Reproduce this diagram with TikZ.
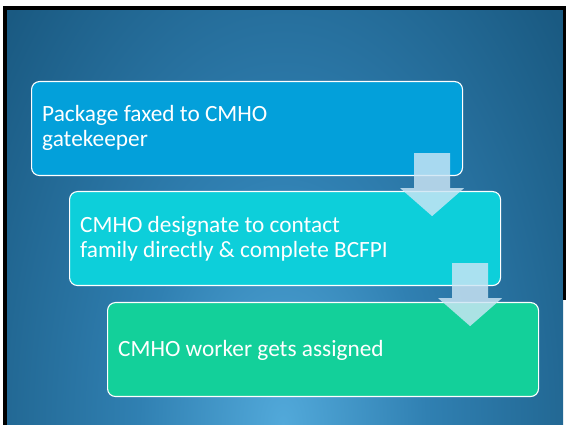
\documentclass[tikz,border=0pt]{standalone}
\usepackage{fontspec}
\setmainfont{Carlito}
\usetikzlibrary{calc}
\definecolor{bgin}{HTML}{52A9DA}
\definecolor{bgmid}{HTML}{3080B2}
\definecolor{bgdark}{HTML}{1A5A82}
\definecolor{bgout}{HTML}{0C4263}
\definecolor{boxA}{HTML}{03A0DA}
\definecolor{boxB}{HTML}{0DCFDA}
\definecolor{boxC}{HTML}{13D09A}
\definecolor{arrowfill}{HTML}{CDE6F5}
\pgfdeclareradialshading{slidebg}{\pgfpoint{0bp}{0bp}}{color(0bp)=(bgin); color(12bp)=(bgmid); color(30bp)=(bgdark); color(50bp)=(bgout); color(100bp)=(bgout)}
\tikzset{
  stepbox/.style={draw=white, line width=1.1pt, rounded corners=8pt, minimum width=431pt, minimum height=94pt, inner sep=0pt, anchor=north west},
  steptext/.style={text=white, font=\fontsize{23.3}{25}\selectfont, anchor=base west, inner sep=0pt, align=left},
  blockarrow/.style={fill=arrowfill, fill opacity=0.82, draw=none}
}
\begin{document}
\begin{tikzpicture}[x=1pt,y=-1pt]
\useasboundingbox (0,0) rectangle (566,425);
\fill[white] (0,0) rectangle (566,425);
\begin{scope}
\clip (7,10) rectangle (563,425);
\shade[shading=slidebg] (-17,-95) rectangle (583,945);
\end{scope}
\fill[black] (3,6) rectangle (566,10);
\fill[black] (3,6) rectangle (7,425);
\fill[black] (563,6) rectangle (566,300);
% boxes
\node[stepbox, fill=boxA] (b1) at (31,81) {};
\node[stepbox, fill=boxB] (b2) at (69,191) {};
\node[stepbox, fill=boxC] (b3) at (107,302) {};
% texts
\node[steptext] (t1a) at (42,122) {Package faxed to CMHO};
\node[steptext] (t1b) at (42,147) {gatekeeper};
\node[steptext] (t2a) at (80,233) {CMHO designate to contact};
\node[steptext] (t2b) at (80,258) {family directly \& complete BCFPI};
\node[steptext] (t3) at (118,356) {CMHO worker gets assigned};
% block arrows
\coordinate (a1) at ($(b1.south east)+(-31,-23)$);
\coordinate (a2) at ($(b2.south east)+(-31,-23)$);
\foreach \a in {a1,a2}{
  \fill[blockarrow] (\a) ++(-18,0) -- ++(36,0) -- ++(0,35) -- ++(14,0) -- ++(-32,28) -- ++(-32,-28) -- ++(14,0) -- cycle;
}
\end{tikzpicture}
\end{document}
